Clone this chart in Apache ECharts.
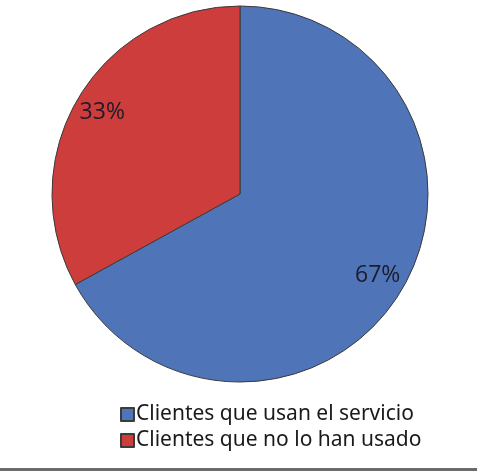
<!DOCTYPE html>
<html>
<head>
<meta charset="utf-8">
<script src="https://cdn.jsdelivr.net/npm/echarts@6/dist/echarts.min.js"></script>
<style>
  html, body { margin: 0; padding: 0; background: #fff; }
  #main { width: 477px; height: 474px; }
</style>
</head>
<body>
<div id="main"></div>
<script>
var categories = ['Clientes que usan el servicio', 'Clientes que no lo han usado'];
var values = [67, 33];
var colors = ['#4f74b8', '#cd3d3b'];

var chart = echarts.init(document.getElementById('main'));

var pieData = categories.map(function (name, i) {
    return { name: name, value: values[i], itemStyle: { color: colors[i] } };
});

var option = {
    animation: false,
    legend: {
        orient: 'vertical',
        left: 115,
        top: 399,
        itemWidth: 13,
        itemHeight: 13,
        itemGap: 5,
        icon: 'rect',
        textStyle: { fontFamily: 'Noto Sans', fontSize: 21, color: '#1a1a1a', padding: [0, 0, 0, -3] },
        data: categories
    },
    graphic: [{
        type: 'rect',
        shape: { x: 0, y: 468, width: 477, height: 3 },
        style: { fill: '#6b6b6b' }
    }],
    series: [
        {
            type: 'pie',
            center: [240, 194],
            radius: [0, 188],
            startAngle: 90,
            clockwise: true,
            label: { show: false },
            labelLine: { show: false },
            itemStyle: { borderColor: '#3b3b3b', borderWidth: 1 },
            emphasis: { disabled: true },
            data: pieData
        },
        {
            // transparent ring used only to place the percent labels
            type: 'pie',
            silent: true,
            center: [240, 194],
            radius: [124, 190],
            startAngle: 90,
            clockwise: true,
            itemStyle: { color: 'rgba(0,0,0,0)' },
            label: {
                show: true,
                position: 'inside',
                formatter: '{d}%',
                fontFamily: 'Open Sans',
                fontSize: 23,
                color: '#1c1c2a'
            },
            labelLine: { show: false },
            emphasis: { disabled: true },
            data: categories.map(function (name, i) {
                return { name: name, value: values[i] };
            })
        }
    ]
};

chart.setOption(option);
</script>
</body>
</html>
